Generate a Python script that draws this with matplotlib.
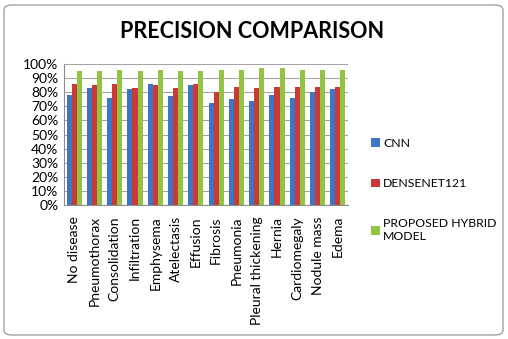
import matplotlib
matplotlib.use("Agg")
import matplotlib.pyplot as plt
import numpy as np
from matplotlib.patches import FancyBboxPatch
from matplotlib.ticker import PercentFormatter

diseases = ["No disease", "Pneumothorax", "Consolidation", "Infiltration", "Emphysema",
            "Atelectasis", "Effusion", "Fibrosis", "Pneumonia", "Pleural thickening",
            "Hernia", "Cardiomegaly", "Nodule mass", "Edema"]
cnn = [78, 83, 76, 82, 86, 77, 85, 72, 75, 74, 78, 76, 80, 82]
densenet = [86, 85, 86, 83, 85, 83, 86, 80, 84, 83, 84, 84, 84, 84]
hybrid = [95, 95, 96, 95, 96, 95, 95, 96, 96, 97, 97, 96, 96, 96]
series_names = ["CNN", "DENSENET121", "PROPOSED HYBRID\nMODEL"]
colors = ["#3F75C6", "#C93A36", "#93C441"]

plt.rcParams['font.family'] = ['Lato', 'DejaVu Sans']

fig = plt.figure(figsize=(5.08, 3.39), dpi=100)
ax = fig.add_axes([64 / 508, 1 - 205 / 339, (348 - 64) / 508, (205 - 64) / 339])

x = np.arange(len(diseases))
w = 0.25
for i, (vals, name) in enumerate(zip([cnn, densenet, hybrid], series_names)):
    ax.bar(x + (i - 1) * w, vals, width=w, color=colors[i], label=name, zorder=3)

ax.set_ylim(0, 100)
ax.set_xlim(-0.5, len(diseases) - 0.5)
ax.set_yticks(range(0, 101, 10))
ax.yaxis.set_major_formatter(PercentFormatter(decimals=0))
ax.grid(axis="y", color="#A6A6A6", linewidth=0.8, zorder=0)
ax.set_xticks(x)
ax.set_xticklabels(diseases, rotation=90, fontsize=10)
ax.tick_params(axis="y", labelsize=10, length=0, pad=4)
ax.tick_params(axis="x", length=0, pad=8)
for s in ["top", "right"]:
    ax.spines[s].set_visible(False)
ax.spines["left"].set_color("#8C8C8C")
ax.spines["bottom"].set_color("#8C8C8C")

fig.text(252 / 508, 1 - 32 / 339, "PRECISION COMPARISON", ha="center", va="center",
         fontsize=15.5, fontweight="bold")

handles, labels = ax.get_legend_handles_labels()
fig.legend(handles, labels, loc="center left", bbox_to_anchor=(360 / 508, 1 - 190 / 339),
           frameon=False, fontsize=8.8, handlelength=0.7, handleheight=0.7,
           handletextpad=0.3, labelspacing=2.4)

border = FancyBboxPatch((4 / 508, 4 / 339), 499 / 508, 330 / 339,
                        boxstyle="round,pad=0,rounding_size=0.015",
                        transform=fig.transFigure, fill=False, edgecolor="#8C8C8C",
                        linewidth=0.8)
fig.patches.append(border)

fig.savefig("out.png", dpi=100)
